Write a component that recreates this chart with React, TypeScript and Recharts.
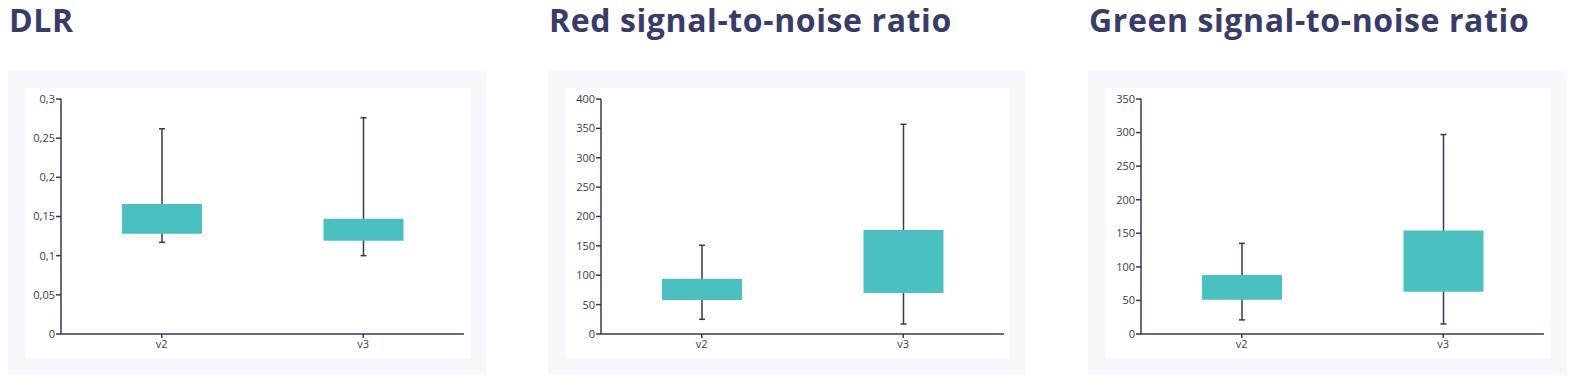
import React from 'react';
import { ComposedChart, Bar, XAxis, YAxis } from 'recharts';

const categories = ['v2', 'v3'];

// [min, q1, q3, max] per category
const dlrStats = [
  [0.117, 0.128, 0.166, 0.262],
  [0.100, 0.119, 0.147, 0.276],
];
const redStats = [
  [25, 58, 94, 151],
  [17, 70, 177, 357],
];
const greenStats = [
  [21, 51, 88, 135],
  [15, 63, 154, 297],
];

const dlrTicks = [0, 0.05, 0.1, 0.15, 0.2, 0.25, 0.3];
const redTicks = [0, 50, 100, 150, 200, 250, 300, 350, 400];
const greenTicks = [0, 50, 100, 150, 200, 250, 300, 350];

const NAVY = '#35375f';
const TEAL = '#4ac1c0';
const LABEL = '#3a3a48';

function toRows(stats: number[][]) {
  return categories.map((name, i) => ({
    name,
    whisker: [stats[i][0], stats[i][3]],
    box: [stats[i][1], stats[i][2]],
  }));
}

const WhiskerShape = (props: any) => {
  const { x, y, width, height } = props;
  if (height == null) return null;
  const cx = x + width / 2;
  return (
    <g stroke={NAVY} strokeWidth={1.5}>
      <line x1={cx} x2={cx} y1={y} y2={y + height} />
      <line x1={cx - 3} x2={cx + 3} y1={y} y2={y} />
      <line x1={cx - 3} x2={cx + 3} y1={y + height} y2={y + height} />
    </g>
  );
};

function BoxChart({ title, stats, ticks, comma }: {
  title: string;
  stats: number[][];
  ticks: number[];
  comma?: boolean;
}) {
  const data = toRows(stats);
  const fmt = (v: number) => (comma ? String(v).replace('.', ',') : String(v));
  return (
    <div style={{ width: 478, marginRight: 62, flex: 'none' }}>
      <div style={{
        height: 63, fontFamily: '"Open Sans", sans-serif', fontWeight: 700, fontSize: 32,
        color: '#393b68', lineHeight: '32px', marginTop: -4, marginLeft: 1, letterSpacing: 0.6,
        whiteSpace: 'nowrap',
      }}>{title}</div>
      <div style={{ background: '#f6f7fb', width: 478, height: 304, marginTop: 4, boxSizing: 'border-box', padding: '17px 16px 16px 17px' }}>
        <div style={{ background: '#fff', width: 445, height: 271 }}>
          <ComposedChart width={445} height={271} data={data} margin={{ top: 11, right: 6, left: 0, bottom: 0 }} barCategoryGap={0}>
            <XAxis
              dataKey="name"
              height={25}
              stroke={NAVY}
              strokeWidth={1.5}
              tickSize={4}
              tick={{ fontSize: 11, fill: LABEL, fontFamily: '"Open Sans", sans-serif' }}
              tickMargin={2}
            />
            <XAxis xAxisId="w" dataKey="name" hide />
            <YAxis
              width={36}
              domain={[ticks[0], ticks[ticks.length - 1]]}
              ticks={ticks}
              tickFormatter={fmt}
              stroke={NAVY}
              strokeWidth={1.5}
              tickSize={5}
              tickMargin={1}
              tick={{ fontSize: 11, fill: LABEL, fontFamily: '"Open Sans", sans-serif' }}
              interval={0}
            />
            <Bar xAxisId="w" dataKey="whisker" barSize={80} shape={WhiskerShape} isAnimationActive={false} />
            <Bar dataKey="box" barSize={80} fill={TEAL} isAnimationActive={false} />
          </ComposedChart>
        </div>
      </div>
    </div>
  );
}

export default function App() {
  return (
    <div style={{ display: 'flex', width: 1560, height: 368 }}>
      <BoxChart title="DLR" stats={dlrStats} ticks={dlrTicks} comma />
      <BoxChart title="Red signal-to-noise ratio" stats={redStats} ticks={redTicks} />
      <BoxChart title="Green signal-to-noise ratio" stats={greenStats} ticks={greenTicks} />
    </div>
  );
}
